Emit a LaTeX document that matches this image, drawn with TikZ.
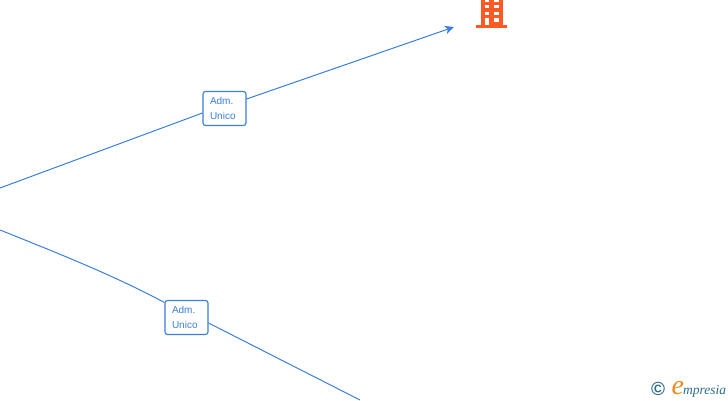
\documentclass[tikz,border=0pt]{standalone}
\usepackage{fontspec}
\setmainfont{Liberation Sans}
\newfontfamily\logofont{Liberation Serif}
\definecolor{edgeblue}{HTML}{3A7FDB}
\definecolor{bldg}{HTML}{FF5A26}
\definecolor{logoteal}{HTML}{2E6E88}
\definecolor{logoorange}{HTML}{EE8A1C}
\usetikzlibrary{arrows.meta}
\tikzset{
  rolebox/.style={draw=edgeblue,line width=1.1pt,rounded corners=2.5pt,fill=white,minimum width=43pt,minimum height=34pt,inner sep=0pt,text=edgeblue,font=\fontsize{10pt}{15pt}\selectfont},
  rolelabel/.style={text width=29pt,align=left},
  link/.style={draw=edgeblue,line width=1pt},
  arrowlink/.style={link,-{Stealth[length=9pt,width=8.5pt,inset=2.5pt]}}
}
\begin{document}
\begin{tikzpicture}[x=1pt,y=-1pt]
\useasboundingbox (0,0) rectangle (728,400);
\coordinate (s1) at (0,188);
\coordinate (s2) at (0,230);
\coordinate (t1) at (454,27);
\coordinate (t2) at (360,400);
\node[rolebox,rolelabel] (b1) at (224.5,108.5) {Adm.\\Unico};
\node[rolebox,rolelabel] (b2) at (186.5,317.5) {Adm.\\Unico};
\draw[link] (s1) -- ([yshift=-4.5pt]b1.west);
\draw[arrowlink] ([yshift=9.5pt]b1.east) -- (t1);
\draw[link] (s2) .. controls (60,254) and (115,276) .. ([yshift=15pt]b2.west);
\draw[link] ([yshift=-5.5pt]b2.east) -- (t2);
% building
\fill[bldg] (476,24.5) rectangle (507,27.5);
\fill[bldg] (480.5,0) rectangle (502.8,25);
\foreach \x in {485,494.3}{
  \foreach \y in {4.7,11.7}{
    \fill[white] (\x,\y) rectangle (\x+4.3,\y+3.7);
  }
  \fill[white] (\x,0) rectangle (\x+4.3,2.2);
}
\fill[white] (485,18) rectangle (489.3,25);
\fill[white] (494.3,18) rectangle (498.6,22);
% logo
\node[inner sep=0pt,text=logoteal,font=\bfseries\fontsize{19pt}{19pt}\selectfont] (copy) at (658,389) {©};
\node[anchor=base west,inner sep=0pt,text=logoorange,font=\logofont\itshape\fontsize{28pt}{29pt}\selectfont] (logoe) at (671.5,394.5) {e};
\node[anchor=base west,inner sep=0pt,text=logoteal,font=\logofont\itshape\fontsize{13.5pt}{14pt}\selectfont] (logot) at (683,394) {mpresia};
\end{tikzpicture}
\end{document}
